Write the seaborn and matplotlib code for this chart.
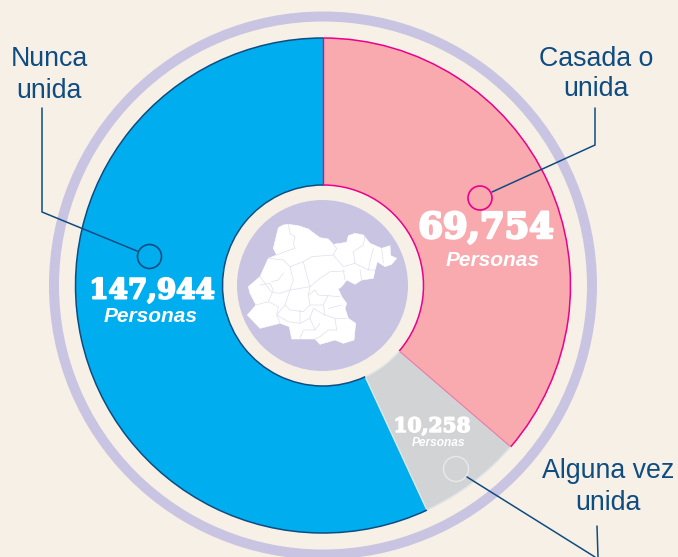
import numpy as np
import seaborn as sns
from matplotlib import pyplot as plt
from matplotlib.patches import Arc, Circle, Polygon
import matplotlib.patheffects as pe

# angular shares as drawn in the picture (they do not follow the counts)
categories = ["Casada o\nunida", "Alguna vez\nunida", "Nunca\nunida"]
slice_shares = [36.3, 6.8, 56.9]
counts = ["69,754", "10,258", "147,944"]
unit_label = "Personas"

slice_colors = ["#F8AAAE", "#D1D3D4", "#00AEEF"]
edge_colors = ["#EC008C", "#E3E6E6", "#0F4C81"]

BG = "#F7F0E6"
LAV = "#C8C4E2"
NAVY = "#0F4C81"

# map outline and municipal borders, traced in pixels of a 3x crop at (240, 215)
map_outline = [(115, 38), (130, 30), (145, 28), (175, 32), (205, 42), (222, 55), (240, 68), (265, 72),
               (280, 88), (320, 82), (325, 62), (345, 55), (370, 60), (390, 85), (425, 100), (450, 92),
               (452, 122), (470, 130), (455, 148), (435, 155), (412, 140), (405, 165), (400, 190),
               (365, 195), (345, 208), (320, 195), (305, 215), (295, 222), (305, 245), (320, 265),
               (315, 280), (325, 310), (347, 325), (342, 375), (310, 385), (285, 375), (240, 388),
               (225, 372), (155, 372), (148, 335), (120, 325), (60, 340), (22, 300), (48, 270),
               (30, 235), (25, 215), (60, 185), (85, 130), (110, 120), (100, 100), (115, 38)]
map_borders = [
    [(145, 28), (150, 55), (165, 65), (160, 85), (165, 100), (135, 110), (110, 120)],
    [(85, 130), (130, 135), (150, 155), (190, 140), (215, 125), (280, 120), (290, 100), (280, 88)],
    [(280, 120), (310, 155), (345, 145), (340, 110), (370, 90), (375, 65)],
    [(345, 145), (385, 165), (405, 165)],
    [(400, 100), (390, 140), (385, 165)],
    [(425, 100), (430, 145)],
    [(310, 165), (315, 195)],
    [(360, 165), (365, 195)],
    [(315, 168), (270, 170), (240, 190), (210, 215), (150, 225), (120, 235), (95, 232), (60, 185)],
    [(190, 140), (200, 180), (210, 215), (205, 240), (225, 225), (235, 240), (300, 245)],
    [(150, 155), (160, 195), (150, 225), (135, 270), (150, 285), (190, 290), (210, 270), (205, 240)],
    [(60, 210), (90, 205), (100, 225), (85, 260), (48, 270)],
    [(85, 260), (115, 275), (110, 300), (120, 325)],
    [(135, 270), (110, 300), (145, 320), (180, 325), (180, 285)],
    [(210, 270), (250, 270), (255, 300), (220, 280), (210, 310), (180, 325)],
    [(250, 270), (265, 240)],
    [(265, 280), (305, 270)],
    [(255, 300), (285, 310), (320, 310)],
    [(285, 310), (290, 345), (265, 345), (240, 365), (225, 372)],
    [(210, 310), (225, 345), (190, 345), (180, 370)],
    [(240, 325), (225, 345)],
    [(130, 175), (115, 195), (95, 200)],
]

sns.set_theme(style="white", rc={"figure.facecolor": BG, "axes.facecolor": BG})
plt.rcParams["font.family"] = ["Liberation Sans", "DejaVu Sans"]

fig = plt.figure(figsize=(6.78, 5.57), dpi=100)
ax = fig.add_axes([0, 0, 1, 1])
ax.set_axis_off()

# work in picture pixels, y going up so the pie keeps its direction
cx, cy = 323, 557 - 285.5
R, hole_r = 247.5, 100.5

wedges, _ = ax.pie(slice_shares, colors=sns.color_palette(slice_colors), startangle=90,
                   counterclock=False, center=(cx, cy), radius=R,
                   wedgeprops={"width": R - hole_r, "linewidth": 0})
ax.set_xlim(0, 678)
ax.set_ylim(0, 557)
ax.set_aspect("equal")
ax.set_position([0, 0, 1, 1])

# outer ring
ax.add_patch(Circle((cx, cy), 269, fill=False, ec=LAV, lw=7.2, zorder=0))


def radial(angle, color, lw):
    a = np.deg2rad(angle)
    ax.plot([cx + hole_r * np.cos(a), cx + R * np.cos(a)],
            [cy + hole_r * np.sin(a), cy + R * np.sin(a)], color=color, lw=lw, zorder=3)


for w, col in zip(wedges, edge_colors):
    for r in (R, hole_r):
        ax.add_patch(Arc((cx, cy), 2 * r, 2 * r, theta1=w.theta1, theta2=w.theta2,
                         ec=col, lw=1.1, zorder=4))
radial(wedges[0].theta2, "#EC008C", 1.0)
radial(wedges[0].theta1, "#EC6FA8", 0.7)
radial(wedges[2].theta2, "#E3E6E6", 1.0)

# centre disc and map
ax.add_patch(Circle((cx - 0.5, cy), 85.5, fc=LAV, ec="none", zorder=2))


def to_px(points):
    p = np.array(points, dtype=float)
    return np.column_stack([240 + p[:, 0] / 3, 557 - (215 + p[:, 1] / 3)])


ax.add_patch(Polygon(to_px(map_outline), closed=True, fc="white", ec="white", lw=0.4, zorder=3))
for b in map_borders:
    xy = to_px(b)
    ax.plot(xy[:, 0], xy[:, 1], color="#E0DEF0", lw=0.5, zorder=4)

# callouts: circle marker, leader line, label
leader_style = dict(color=NAVY, lw=1.1, zorder=5, solid_joinstyle="miter")
ax.add_patch(Circle((480, 557 - 198), 12, fill=False, ec="#EC008C", lw=1.2, zorder=5))
ax.plot([595, 595, 492], [557 - 108, 557 - 145, 557 - 192], **leader_style)
ax.add_patch(Circle((149.5, 557 - 256.5), 12, fill=False, ec=NAVY, lw=1.2, zorder=5))
ax.plot([42, 42, 137], [557 - 108, 557 - 212, 557 - 251], **leader_style)
ax.add_patch(Circle((456, 557 - 469), 12.5, fill=False, ec="#E8EAEA", lw=1.0, zorder=5))
ax.plot([467, 595], [557 - 477, 557 - 557], **leader_style)
ax.plot([597, 598], [557 - 526, 557 - 557], **leader_style)

label_pos = [(596, 74), (608, 487), (49, 75)]
for name, (x, y) in zip(categories, label_pos):
    ax.text(x, 557 - y, name, color=NAVY, fontsize=19.3, ha="center", va="center", linespacing=1.25, zorder=6)

# counts inside the slices
count_pos = [(486, 228, 25.5), (432, 426, 14.5), (152, 291, 20)]
unit_pos = [(493, 261, 15), (439, 443, 8.6), (151, 316, 15)]
for c, (x, y, s), (ux, uy, us) in zip(counts, count_pos, unit_pos):
    ax.text(x, 557 - y, c, color="white", fontsize=s, family="DejaVu Serif", weight="bold",
            ha="center", va="center", zorder=6,
            path_effects=[pe.withStroke(linewidth=s / 14, foreground="white")])
    ax.text(ux, 557 - uy, unit_label, color="white", fontsize=us, style="italic", weight="bold",
            ha="center", va="center", zorder=6)

fig.savefig("out.png", dpi=100, facecolor=BG)
